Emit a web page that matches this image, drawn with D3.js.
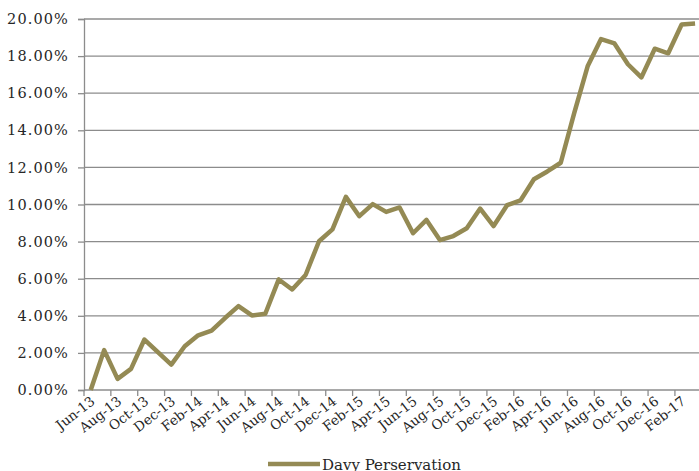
<!DOCTYPE html>
<html>
<head>
<meta charset="utf-8">
<script src="https://cdn.jsdelivr.net/npm/d3@7"></script>
<style>
  body { margin: 0; background: #fff; }
  svg { display: block; }
  text { font-family: "DejaVu Serif", Georgia, serif; fill: #262626; }
</style>
</head>
<body>
<svg id="chart" width="699" height="471"></svg>
<script>
// monthly categories, Jun-13 .. Mar-17
var months = [
  "Jun-13", "Jul-13", "Aug-13", "Sep-13", "Oct-13", "Nov-13", "Dec-13",
  "Jan-14", "Feb-14", "Mar-14", "Apr-14", "May-14", "Jun-14", "Jul-14", "Aug-14", "Sep-14", "Oct-14", "Nov-14", "Dec-14",
  "Jan-15", "Feb-15", "Mar-15", "Apr-15", "May-15", "Jun-15", "Jul-15", "Aug-15", "Sep-15", "Oct-15", "Nov-15", "Dec-15",
  "Jan-16", "Feb-16", "Mar-16", "Apr-16", "May-16", "Jun-16", "Jul-16", "Aug-16", "Sep-16", "Oct-16", "Nov-16", "Dec-16",
  "Jan-17", "Feb-17", "Mar-17"
];

// Davy Perservation, cumulative return in %
var davy = [
  0.00, 2.15, 0.60, 1.14, 2.72, 2.04, 1.37,
  2.36, 2.95, 3.20, 3.88, 4.52, 4.02, 4.11, 5.96, 5.42, 6.20, 8.02, 8.66,
  10.41, 9.37, 10.02, 9.60, 9.84, 8.45, 9.17, 8.08, 8.30, 8.72, 9.78, 8.84,
  9.96, 10.22, 11.36, 11.78, 12.25, 14.93, 17.45, 18.92, 18.68, 17.56, 16.85, 18.40,
  18.15, 19.70, 19.76
];

var yTicks = [0, 2, 4, 6, 8, 10, 12, 14, 16, 18, 20];
var seriesName = "Davy Perservation";

var svg = d3.select("svg#chart"),
  plotLeft = 84, plotTop = 19, plotBottom = 390;

var x = d3.scaleBand()
  .domain(months)
  .range([plotLeft, plotLeft + months.length * 13.43])
  .padding(0);

var y = d3.scaleLinear()
  .domain([0, 20])
  .range([plotBottom, plotTop]);

var lineColor = "#948a54";
var gridColor = "#8c8c8c";

// gridlines
svg.append("g")
  .selectAll("line")
  .data(yTicks.filter(d => d > 0))
  .join("line")
  .attr("x1", plotLeft)
  .attr("x2", 699)
  .attr("y1", d => y(d))
  .attr("y2", d => y(d))
  .attr("stroke", gridColor)
  .attr("stroke-width", 1.3);

// y axis
var yAxis = svg.append("g")
  .attr("transform", "translate(" + plotLeft + ",0)")
  .call(d3.axisLeft(y)
    .tickValues(yTicks)
    .tickSize(6)
    .tickPadding(9)
    .tickFormat(d => d.toFixed(2) + "%"));
yAxis.select(".domain").attr("stroke", gridColor).attr("stroke-width", 1.3);
yAxis.selectAll(".tick line").attr("stroke", gridColor).attr("stroke-width", 1.3);
yAxis.selectAll(".tick text")
  .style("font-family", "'DejaVu Serif', serif")
  .style("font-size", "14.5px")
  .style("letter-spacing", "1.1px")
  .attr("fill", "#262626");

// x axis line + tick marks between categories (every 2)
svg.append("line")
  .attr("x1", plotLeft).attr("x2", 699)
  .attr("y1", plotBottom).attr("y2", plotBottom)
  .attr("stroke", gridColor).attr("stroke-width", 1.3);

svg.append("g")
  .selectAll("line")
  .data(months.filter((d, i) => i % 2 === 0))
  .join("line")
  .attr("x1", d => x(d))
  .attr("x2", d => x(d))
  .attr("y1", plotBottom)
  .attr("y2", plotBottom + 6)
  .attr("stroke", gridColor)
  .attr("stroke-width", 1.3);

// x labels, rotated
svg.append("g")
  .selectAll("text")
  .data(months.filter((d, i) => i % 2 === 0))
  .join("text")
  .attr("text-anchor", "end")
  .attr("transform", d => "translate(" + (x(d) + x.bandwidth() / 2 + 5) + "," + (plotBottom + 13) + ") rotate(-38)")
  .style("font-size", "13.5px")
  .text(d => d);

// series line
var line = d3.line()
  .x((d, i) => x(months[i]) + x.bandwidth() / 2)
  .y(d => y(d));

svg.append("path")
  .datum(davy)
  .attr("fill", "none")
  .attr("stroke", lineColor)
  .attr("stroke-width", 4.5)
  .attr("stroke-linejoin", "round")
  .attr("d", line);

// legend
var legend = svg.append("g").attr("class", "legendEntry");
legend.append("line")
  .attr("x1", 268).attr("x2", 320)
  .attr("y1", 464).attr("y2", 464)
  .attr("stroke", lineColor)
  .attr("stroke-width", 4.5);
legend.append("text")
  .attr("x", 322)
  .attr("y", 470)
  .style("font-size", "15px")
  .text(seriesName);
</script>
</body>
</html>
